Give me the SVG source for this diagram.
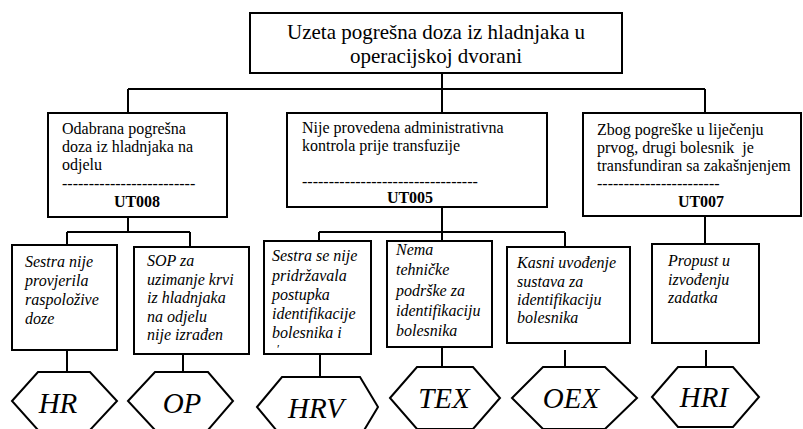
<svg xmlns="http://www.w3.org/2000/svg" width="803" height="429" viewBox="0 0 803 429">
<style>
.box{fill:#fff;stroke:#000;stroke-width:2}
.hex{fill:#fff;stroke:#000;stroke-width:2;stroke-linejoin:miter}
.ln{fill:none;stroke:#000;stroke-width:2}
text{font-family:'Times New Roman','Liberation Serif',Tinos,'DejaVu Serif',serif;fill:#000}
.top{font-size:21px}
.l1{font-size:16px}
.b{font-size:16px;font-weight:bold}
.it{font-size:16px;font-style:italic}
.hx{font-size:29px;font-style:italic}
</style>
<rect width="803" height="429" fill="#fff"/>
<g id="connectors">
<path class="ln" d="M442 73V113M128 89H705M128 89V113M705 89V113"/>
<path class="ln" d="M128 217V232M67 232H190M67 232V245M190 232V247"/>
<path class="ln" d="M442 207V241M319 232H565M319 232V241M565 232V247"/>
<path class="ln" d="M705 216V244"/>
<path class="ln" d="M67 350V372M183 354V372M320 354V377M442 347V367M565 350V367M706 350V367"/>
</g>
<g id="top">
<rect class="box" x="250" y="13" width="372" height="60"/>
<text class="top" x="436" y="39" text-anchor="middle">Uzeta pogrešna doza iz hladnjaka u</text>
<text class="top" x="436" y="63" text-anchor="middle">operacijskoj dvorani</text>
</g>
<g id="UT008">
<rect class="box" x="48" y="113" width="179" height="104"/>
<text class="l1" x="62" y="134">Odabrana pogrešna</text>
<text class="l1" x="62" y="152">doza iz hladnjaka na</text>
<text class="l1" x="62" y="170">odjelu</text>
<text class="l1" x="62" y="189">-------------------------</text>
<text class="b" x="137" y="207" text-anchor="middle">UT008</text>
</g>
<g id="UT005">
<rect class="box" x="287" y="113" width="260" height="94"/>
<text class="l1" x="302" y="133">Nije provedena administrativna</text>
<text class="l1" x="302" y="151">kontrola prije transfuzije</text>
<text class="l1" x="302" y="187">---------------------------------</text>
<text class="b" x="410" y="203" text-anchor="middle">UT005</text>
</g>
<g id="UT007">
<rect class="box" x="583" y="113" width="218" height="103"/>
<text class="l1" x="597" y="135">Zbog pogreške u liječenju</text>
<text class="l1" x="597" y="153" xml:space="preserve">prvog, drugi bolesnik  je</text>
<text class="l1" x="597" y="171">transfundiran sa zakašnjenjem</text>
<text class="l1" x="597" y="189">-----------------------</text>
<text class="b" x="701" y="207" text-anchor="middle">UT007</text>
</g>
<g id="c1">
<rect class="box" x="12" y="245" width="105" height="105"/>
<text class="it" x="25" y="267">Sestra nije</text>
<text class="it" x="25" y="286">provjerila</text>
<text class="it" x="25" y="305">raspoložive</text>
<text class="it" x="25" y="324">doze</text>
</g>
<g id="c2">
<rect class="box" x="134" y="247" width="115" height="107"/>
<text class="it" x="147" y="266">SOP za</text>
<text class="it" x="147" y="285">uzimanje krvi</text>
<text class="it" x="147" y="303">iz hladnjaka</text>
<text class="it" x="147" y="322">na odjelu</text>
<text class="it" x="147" y="340">nije izrađen</text>
</g>
<g id="c3">
<rect class="box" x="264" y="241" width="107" height="113"/>
<text class="it" x="272" y="261">Sestra se nije</text>
<text class="it" x="272" y="281">pridržavala</text>
<text class="it" x="272" y="300">postupka</text>
<text class="it" x="272" y="319">identifikacije</text>
<text class="it" x="272" y="338">bolesnika i</text>
<text x="277" y="353" font-size="12">ʹ</text>
</g>
<g id="c4">
<rect class="box" x="387" y="241" width="105" height="106"/>
<text class="it" x="396" y="255">Nema</text>
<text class="it" x="396" y="275">tehničke</text>
<text class="it" x="396" y="296">podrške za</text>
<text class="it" x="396" y="316">identifikaciju</text>
<text class="it" x="396" y="336">bolesnika</text>
</g>
<g id="c5">
<rect class="box" x="507" y="247" width="123" height="96"/>
<text class="it" x="517" y="268">Kasni uvođenje</text>
<text class="it" x="517" y="287">sustava za</text>
<text class="it" x="517" y="305">identifikaciju</text>
<text class="it" x="517" y="323">bolesnika</text>
</g>
<g id="c6">
<rect class="box" x="652" y="244" width="107" height="99"/>
<text class="it" x="668" y="266">Propust u</text>
<text class="it" x="668" y="285">izvođenju</text>
<text class="it" x="668" y="303">zadatka</text>
</g>
<g id="HR">
<polygon class="hex" points="12,401 38,372 90,372 117,401 90,430 38,430"/>
<text class="hx" x="58" y="413" text-anchor="middle">HR</text>
</g>
<g id="OP">
<polygon class="hex" points="128,401 155,372 208,372 233,401 208,430 155,430"/>
<text class="hx" x="182" y="413" text-anchor="middle">OP</text>
</g>
<g id="HRV">
<polygon class="hex" points="257,407 282,377 360,377 378,407 360,437 282,437"/>
<text class="hx" x="316" y="418" text-anchor="middle">HRV</text>
</g>
<g id="TEX">
<polygon class="hex" points="390,398 417,367 473,367 500,398 473,429 417,429"/>
<text class="hx" x="444" y="408" text-anchor="middle">TEX</text>
</g>
<g id="OEX">
<polygon class="hex" points="512,398 543,367 605,367 637,398 605,429 543,429"/>
<text class="hx" x="571" y="408" text-anchor="middle">OEX</text>
</g>
<g id="HRI">
<polygon class="hex" points="652,397 678,367 733,367 759,397 733,427 678,427"/>
<text class="hx" x="704" y="407" text-anchor="middle">HRI</text>
</g>
</svg>
